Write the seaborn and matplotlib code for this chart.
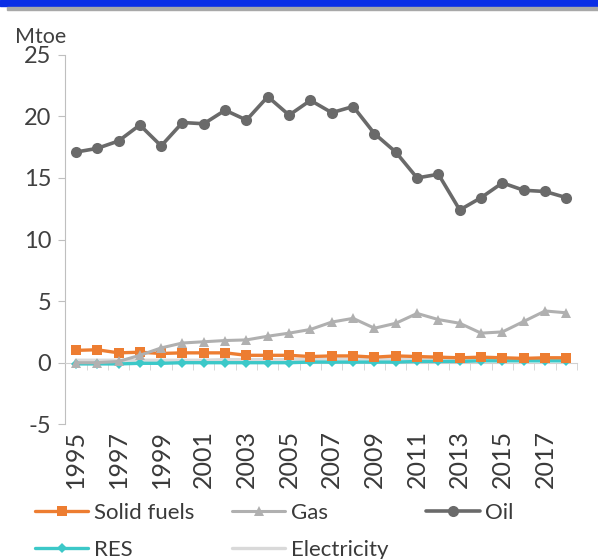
import matplotlib.pyplot as plt
import matplotlib.patches as mpatches
import pandas as pd
import seaborn as sns

# 연도 (1995-2018)
years = list(range(1995, 2019))

# Mtoe 값
oil = [17.1, 17.4, 18.0, 19.3, 17.6, 19.5, 19.4, 20.5, 19.7, 21.6, 20.1, 21.3,
       20.3, 20.8, 18.6, 17.1, 15.0, 15.3, 12.4, 13.4, 14.6, 14.0, 13.9, 13.4]
gas = [0.0, 0.0, 0.1, 0.6, 1.2, 1.6, 1.7, 1.8, 1.85, 2.15, 2.4, 2.7,
       3.3, 3.6, 2.8, 3.2, 4.0, 3.5, 3.2, 2.4, 2.5, 3.35, 4.2, 4.05]
solid = [1.0, 1.05, 0.8, 0.85, 0.75, 0.8, 0.8, 0.8, 0.6, 0.6, 0.6, 0.5,
         0.55, 0.55, 0.45, 0.55, 0.5, 0.45, 0.4, 0.45, 0.4, 0.35, 0.4, 0.4]
res = [-0.1, -0.1, -0.1, -0.05, -0.05, 0.0, 0.0, 0.0, 0.0, 0.0, 0.0, 0.05,
       0.05, 0.05, 0.05, 0.05, 0.1, 0.1, 0.1, 0.15, 0.15, 0.15, 0.15, 0.15]
elec = [0.2, 0.2, 0.2, 0.2, 0.2, 0.2, 0.2, 0.25, 0.25, 0.25, 0.25, 0.25,
        0.3, 0.3, 0.3, 0.3, 0.3, 0.3, 0.3, 0.3, 0.3, 0.3, 0.3, 0.3]

series_names = ['Solid fuels', 'Gas', 'Oil', 'RES', 'Electricity']
series_values = [solid, gas, oil, res, elec]

df = pd.DataFrame({'year': years * len(series_names),
                   'fuel': [n for n in series_names for _ in years],
                   'value': [v for s in series_values for v in s]})

sns.set_style('white')
plt.rcParams['font.family'] = ['Lato', 'DejaVu Sans']
plt.rcParams['axes.unicode_minus'] = False

fig = plt.figure(figsize=(5.98, 5.59), dpi=100)
ax = fig.add_axes([0.109, 0.241, 0.856, 0.661])

# 선 스타일 (색, 마커, 크기, 선 두께, zorder)
styles = {
    'Electricity': dict(color='#d9d9d9', marker=None, ms=0, lw=2.4, z=2),
    'RES':         dict(color='#3cc8c8', marker='D', ms=5.5, lw=2.4, z=3),
    'Solid fuels': dict(color='#ed7d31', marker='s', ms=6.5, lw=2.4, z=4),
    'Gas':         dict(color='#b0b0b0', marker='^', ms=6.5, lw=2.2, z=5),
    'Oil':         dict(color='#6a6a6a', marker='o', ms=8, lw=2.6, z=6),
}

handles = {}
for name, st in styles.items():
    sub = df[df['fuel'] == name]
    sns.lineplot(data=sub, x='year', y='value', ax=ax, color=st['color'],
                 marker=st['marker'], markersize=st['ms'], linewidth=st['lw'],
                 markeredgewidth=0, zorder=st['z'], label=name, legend=False)
    handles[name] = ax.get_lines()[-1]

ax.set_xlim(1994.5, 2018.5)
ax.set_ylim(-5, 25)
ax.set_yticks(range(-5, 26, 5))
ax.set_xlabel('')
ax.set_ylabel('')

for s in ['top', 'right']:
    ax.spines[s].set_visible(False)
ax.spines['left'].set_color('#bfbfbf')
ax.spines['bottom'].set_color('#d0d0d0')
ax.spines['bottom'].set_position(('data', 0))

ax.tick_params(axis='y', length=5, direction='out', color='#bfbfbf',
               labelsize=17, labelcolor='#404040', pad=5, left=True)
ax.set_xticks([y - 0.5 for y in years] + [2018.5], minor=True)
ax.set_xticks([])
ax.tick_params(axis='x', which='minor', length=5, direction='out',
               color='#d0d0d0', bottom=True)

# 아래쪽 연도 라벨
sec = ax.secondary_xaxis('bottom')
sec.set_xticks(years[::2])
sec.set_xticklabels([str(y) for y in years[::2]])
sec.tick_params(length=0, labelrotation=90, labelsize=18,
                labelcolor='#3a3a3a', pad=4)
sec.spines['bottom'].set_visible(False)

fig.text(0.025, 0.934, 'Mtoe', fontsize=15.5, color='#404040', va='center')

# 위쪽 파란 띠
fig.patches.append(mpatches.Rectangle((0, 1 - 6 / 559), 1, 6 / 559,
                                      transform=fig.transFigure,
                                      color='#0a2ee6', zorder=0))
fig.patches.append(mpatches.Rectangle((0.012, 1 - 10 / 559), 0.988, 3 / 559,
                                      transform=fig.transFigure,
                                      color='#a8a8a8', zorder=0))

order = ['Solid fuels', 'RES', 'Gas', 'Electricity', 'Oil']
fig.legend([handles[n] for n in order], order, loc='upper left',
           bbox_to_anchor=(0.04, 0.12), ncol=3, frameon=False,
           fontsize=16, handlelength=2.4, handletextpad=0.25,
           columnspacing=1.7, labelspacing=0.75, borderpad=0,
           labelcolor='#3a3a3a')

fig.savefig('out.png', dpi=100)
